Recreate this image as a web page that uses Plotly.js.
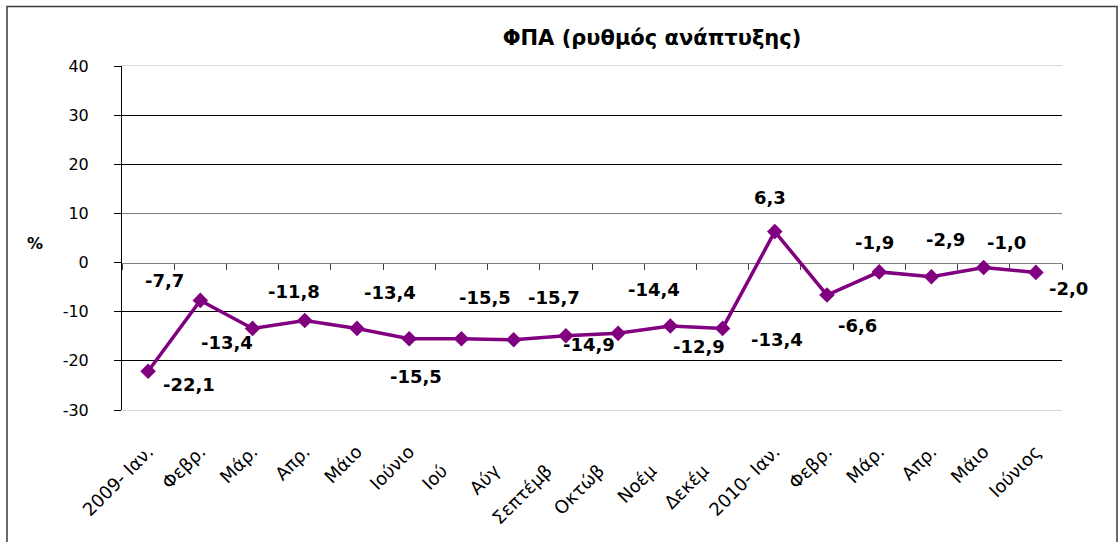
<!DOCTYPE html>
<html>
<head>
<meta charset="utf-8">
<script src="https://cdn.plot.ly/plotly-3.0.1.min.js"></script>
<style>
  html, body { margin: 0; padding: 0; background: #fff; }
  #chart { width: 1120px; height: 542px; }
</style>
</head>
<body>
<div id="chart"></div>
<script>
// ---- data ----
const months = ["2009- Ιαν.", "Φεβρ.", "Μάρ.", "Απρ.", "Μάιο", "Ιούνιο", "Ιού", "Αύγ", "Σεπτέμβ",
                "Οκτώβ", "Νοέμ", "Δεκέμ", "2010- Ιαν.", "Φεβρ.", "Μάρ.", "Απρ.", "Μάιο", "Ιούνιος"];
const vatGrowth = [-22.1, -7.7, -13.4, -11.8, -13.4, -15.5, -15.5, -15.7, -14.9,
                   -14.4, -12.9, -13.4, 6.3, -6.6, -1.9, -2.9, -1.0, -2.0];
const yTicks = [-30, -20, -10, 0, 10, 20, 30, 40];
const blackGrid = [-20, -10, 20, 30];
const grayGrid = [10];

// ---- styling helpers (not data) ----
// label offsets (px) mimicking the original label placement
const labelShiftX = [41, -36, -26, -11, 33, 7, 24, 40, 23, 36, 29, 54, -5, 30, -5, 14, 23, 33];
const labelShiftY = [-13, 20, -14, 29, 36, -38, 41, 42, -9, 44, -21, -11, 34, -30, 29, 37, 25, -16];
// trailing padding (en spaces) for labels that were clipped in the original
const tickPad = [0, 0, 0, 0, 0, 0, 3, 3, 3, 3, 3, 3, 0, 0, 0, 0, 0, 0];

const idx = months.map((_, i) => i);
const bounds = [-0.5].concat(idx.map(i => i + 0.5));
const fmt = v => v.toFixed(1).replace('.', ',');
const tickText = months.map((m, i) => m + "\u2002".repeat(tickPad[i]));

const FONT = "DejaVu Sans";
const purple = "#800080";

const traces = [
  {
    x: idx, y: vatGrowth, type: "scatter", mode: "lines+markers",
    line: { color: purple, width: 3.5 },
    marker: { symbol: "diamond", size: 12, color: purple },
    hoverinfo: "skip", showlegend: false, cliponaxis: false
  },
  { x: idx, y: vatGrowth, xaxis: "x2", yaxis: "y2", type: "scatter", mode: "markers",
    marker: { opacity: 0 }, hoverinfo: "skip", showlegend: false },
  { x: idx, y: vatGrowth, xaxis: "x2", yaxis: "y3", type: "scatter", mode: "markers",
    marker: { opacity: 0 }, hoverinfo: "skip", showlegend: false }
];

const L = 122, R = 58, T = 66, B = 132, W = 1120, H = 542;
const pw = W - L - R, ph = H - T - B;

const annotations = vatGrowth.map((v, i) => ({
  x: i, y: v, xref: "x", yref: "y", text: fmt(v), showarrow: false,
  xshift: labelShiftX[i], yshift: labelShiftY[i],
  font: { family: FONT, size: 18, color: "#000", weight: "bold" }
}));
annotations.push({
  xref: "paper", yref: "paper", x: (35 - L) / pw, y: (H - B - 243) / ph,
  text: "<b>%</b>", showarrow: false, xanchor: "center", yanchor: "middle",
  font: { family: FONT, size: 16, color: "#000" }
});

const layout = {
  width: W, height: H,
  margin: { l: L, r: R, t: T, b: B },
  paper_bgcolor: "#fff", plot_bgcolor: "#fff",
  title: {
    text: "<b>ΦΠΑ (ρυθμός ανάπτυξης)</b>",
    x: 652 / W, xref: "container", xanchor: "center",
    y: 1 - 38 / H, yref: "container", yanchor: "middle",
    font: { family: FONT, size: 21, color: "#000" }
  },
  xaxis: {
    range: [-0.5, months.length - 0.5], tickmode: "array", tickvals: idx, ticktext: tickText,
    tickangle: -45, ticks: "outside", ticklen: 23, tickcolor: "rgba(0,0,0,0)",
    showgrid: false, zeroline: false, automargin: false,
    showline: true, linecolor: "#d9d9d9", linewidth: 1, mirror: true, layer: "below traces",
    tickfont: { family: FONT, size: 18, color: "#000" }
  },
  xaxis2: {
    overlaying: "x", anchor: "free", position: 30 / 70,
    range: [-0.5, months.length - 0.5], tickmode: "array", tickvals: bounds,
    ticks: "outside", ticklen: 6, tickcolor: "#404040", tickwidth: 1,
    showticklabels: false, showgrid: false, zeroline: false,
    showline: true, linecolor: "#808080", linewidth: 1, layer: "below traces"
  },
  yaxis: {
    range: [-30, 40], tickmode: "array", tickvals: yTicks, ticktext: yTicks.map(String),
    ticks: "outside", ticklen: 7, tickcolor: "#000", tickwidth: 1,
    showline: true, linecolor: "#000", linewidth: 1, layer: "below traces",
    showgrid: false, zeroline: false, automargin: false,
    ticklabelstandoff: 22,
    tickfont: { family: FONT, size: 16, color: "#000" }
  },
  yaxis2: {
    overlaying: "y", range: [-30, 40], tickmode: "array", tickvals: blackGrid,
    showticklabels: false, ticks: "", showline: false, zeroline: false,
    showgrid: true, gridcolor: "#000", gridwidth: 1
  },
  yaxis3: {
    overlaying: "y", range: [-30, 40], tickmode: "array", tickvals: grayGrid,
    showticklabels: false, ticks: "", showline: false, zeroline: false,
    showgrid: true, gridcolor: "#808080", gridwidth: 1
  },
  shapes: [{
    type: "rect", xref: "paper", yref: "paper",
    x0: (7 - L) / pw, x1: (1117 - L) / pw, y0: -1, y1: (H - B - 6.5) / ph,
    line: { color: "#3a3a3a", width: 1.5 }, fillcolor: "rgba(0,0,0,0)", layer: "below"
  }],
  annotations: annotations,
  showlegend: false
};

Plotly.newPlot("chart", traces, layout, { staticPlot: true, displayModeBar: false });
</script>
</body>
</html>
